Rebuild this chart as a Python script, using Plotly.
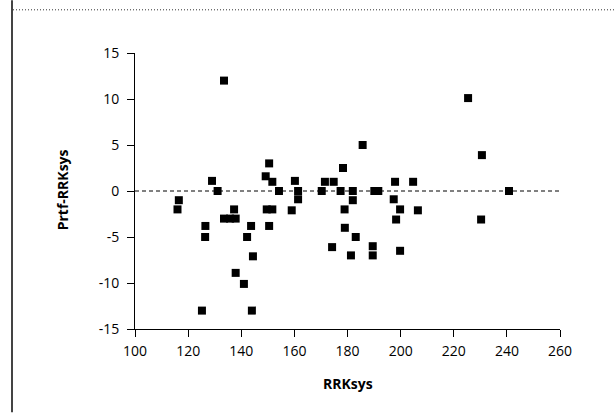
import plotly.graph_objects as go

rrk_sys = [116.5, 116, 125.2, 126.5, 126.4, 129, 131.1, 133.5, 133.5, 135.8,
           137.9, 137.3, 137.9, 141, 142.2, 143.7, 144.4, 144, 149.2, 150.5,
           151.7, 149.6, 151.7, 150.5, 154.2, 159, 160.2, 161.4, 161.4, 170.3,
           171.5, 174.8, 174.2, 178.3, 177.4, 178.9, 179, 182, 182, 183.1,
           181.3, 185.7, 189.5, 189.5, 190.1, 191.6, 197.9, 197.4, 199.8, 198.3,
           199.8, 204.7, 206.5, 225.4, 230.6, 230.3, 240.8]
diff = [-1, -2, -13, -3.8, -5, 1.1, 0, 12, -3, -3,
        -3, -2, -8.9, -10.1, -5, -3.8, -7.1, -13, 1.6, 3,
        1, -2, -2, -3.8, 0, -2.1, 1.1, 0, -0.9, 0,
        1, 1, -6.1, 2.5, 0, -2, -4, 0, -1, -5,
        -7, 5, -6, -7, 0, 0, 1, -0.9, -2, -3.1,
        -6.5, 1, -2.1, 10.1, 3.9, -3.1, 0]

x_ticks = [100, 120, 140, 160, 180, 200, 220, 240, 260]
y_ticks = [-15, -10, -5, 0, 5, 10, 15]
x_title = "RRKsys"
y_title = "Prtf-RRKsys"

W, H = 614, 418
L, R, T, B = 135, 560, 52.7, 328.7
pw, ph = R - L, B - T

def px(x):
    return (x - L) / pw

def py(y):
    return (B - y) / ph

fig = go.Figure()
fig.add_trace(go.Scatter(
    x=rrk_sys, y=diff, mode="markers",
    marker=dict(symbol="square", size=8, color="black", line=dict(width=0)),
    cliponaxis=False, showlegend=False,
))

fig.update_layout(
    width=W, height=H,
    margin=dict(l=L, r=W - R, t=T, b=H - B, pad=0),
    paper_bgcolor="white", plot_bgcolor="white",
    font=dict(family="Open Sans", size=13, color="black"),
    xaxis=dict(range=[100, 260], tickvals=x_ticks, ticktext=[str(v) for v in x_ticks],
               showgrid=False, zeroline=False, showline=True, linecolor="black",
               linewidth=1, ticks="outside", ticklen=7, tickcolor="black",
               tickfont=dict(size=14), ticklabelstandoff=2),
    yaxis=dict(range=[-15, 15], tickvals=y_ticks, ticktext=[str(v) for v in y_ticks],
               showgrid=False, zeroline=False, showline=True, linecolor="black",
               linewidth=1, ticks="outside", ticklen=7, tickcolor="black",
               tickfont=dict(size=14), ticklabelstandoff=5),
    shapes=[
        dict(type="line", xref="x", yref="y", x0=100, x1=260, y0=0, y1=0,
             line=dict(color="black", width=1, dash="4px,3px")),
        dict(type="line", xref="paper", yref="paper", x0=px(12), x1=px(12),
             y0=py(0), y1=py(412), line=dict(color="#444", width=2)),
        dict(type="line", xref="paper", yref="paper", x0=px(13), x1=px(614),
             y0=py(9.5), y1=py(9.5), line=dict(color="#333", width=1, dash="1px,2px")),
    ],
    annotations=[
        dict(text=f"<b>{x_title}</b>", xref="paper", yref="paper",
             x=px(348), y=py(383), showarrow=False, font=dict(size=14),
             xanchor="center", yanchor="middle"),
        dict(text=f"<b>{y_title}</b>", xref="paper", yref="paper",
             x=px(62), y=py(190), showarrow=False, font=dict(size=14),
             textangle=-90, xanchor="center", yanchor="middle"),
    ],
)

fig.write_html("out.html", config={"displayModeBar": False},
               post_script="document.body.style.margin='0';document.body.style.overflow='hidden';")
